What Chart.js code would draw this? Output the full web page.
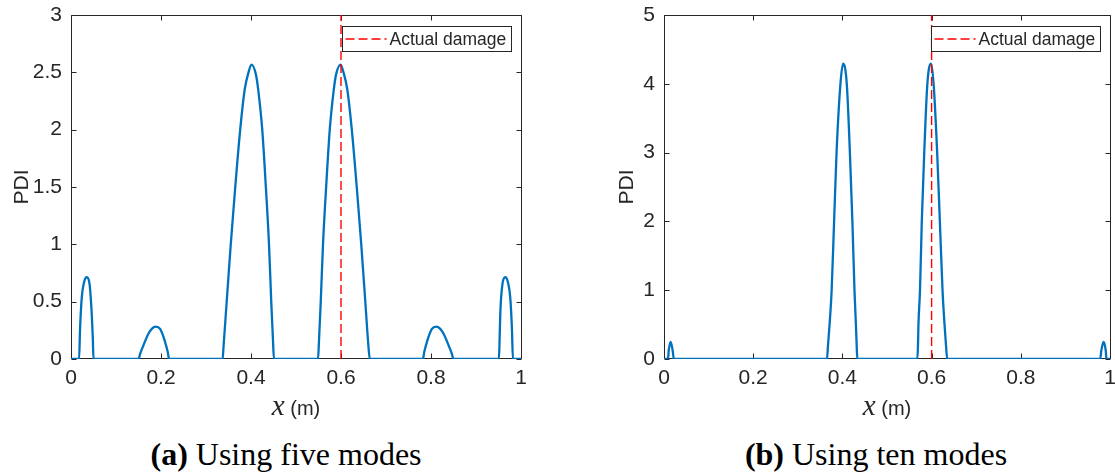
<!DOCTYPE html>
<html>
<head>
<meta charset="utf-8">
<script src="https://cdn.jsdelivr.net/npm/chart.js@4.4.1/dist/chart.umd.min.js"></script>
<style>
  html, body { margin: 0; padding: 0; background: #fff; }
  body { width: 1115px; height: 474px; position: relative; overflow: hidden; }
  canvas { position: absolute; top: 0; }
  .cap { position: absolute; top: 434px; font-family: 'Liberation Serif', 'Times New Roman', serif;
         font-size: 32px; line-height: 40px; color: #000; white-space: nowrap; transform: translateX(-50%); }
</style>
</head>
<body>
<canvas id="fiveModes" width="557" height="430" style="left:0"></canvas>
<canvas id="tenModes" width="558" height="430" style="left:557px"></canvas>
<div class="cap" style="left:286px"><b>(a)</b> Using five modes</div>
<div class="cap" style="left:876px"><b>(b)</b> Using ten modes</div>
<script>
// tick labels
const xTicks = [0, 0.2, 0.4, 0.6, 0.8, 1];
const fiveTicks = [0, 0.5, 1, 1.5, 2, 2.5, 3];
const tenTicks = [0, 1, 2, 3, 4, 5];
const damageAt = 0.6;
const xTitle = ['x', ' (m)'];

// PDI, five modes
const fiveX = [0, 0.018, 0.020, 0.024, 0.029, 0.035, 0.041, 0.046, 0.0485, 0.050,
  0.150, 0.154, 0.161, 0.172, 0.180, 0.188, 0.198, 0.209, 0.215, 0.218,
  0.337, 0.339, 0.346, 0.355, 0.365, 0.376, 0.386, 0.3945, 0.401, 0.411, 0.416, 0.425, 0.433, 0.440, 0.445, 0.449, 0.451,
  0.549, 0.551, 0.555, 0.560, 0.567, 0.575, 0.584, 0.589, 0.599, 0.6055, 0.614, 0.624, 0.635, 0.645, 0.654, 0.661, 0.664,
  0.782, 0.785, 0.791, 0.802, 0.812, 0.820, 0.828, 0.839, 0.846, 0.850,
  0.951, 0.9525, 0.954, 0.959, 0.965, 0.971, 0.976, 0.980, 0.982, 1];
const fiveY = [0, 0, 0.25, 0.54, 0.67, 0.713, 0.66, 0.40, 0.18, 0,
  0, 0.05, 0.12, 0.22, 0.265, 0.282, 0.262, 0.15, 0.06, 0,
  0, 0.11, 0.5, 1.0, 1.5, 2.0, 2.35, 2.50, 2.568, 2.48, 2.35, 2.0, 1.5, 1.0, 0.5, 0.15, 0,
  0, 0.15, 0.5, 1.0, 1.5, 2.0, 2.35, 2.48, 2.568, 2.50, 2.35, 2.0, 1.5, 1.0, 0.5, 0.11, 0,
  0, 0.06, 0.15, 0.262, 0.282, 0.265, 0.22, 0.12, 0.05, 0,
  0, 0.18, 0.40, 0.66, 0.713, 0.67, 0.54, 0.25, 0, 0];

// PDI, ten modes
const tenX = [0, 0.009, 0.0105, 0.015, 0.0195, 0.022,
  0.3656, 0.3675, 0.3712, 0.3759, 0.3814, 0.3869, 0.3956, 0.4015, 0.4098, 0.4168, 0.4224, 0.4271, 0.4303, 0.432, 0.4334,
  0.568, 0.5695, 0.5705, 0.574, 0.578, 0.5835, 0.5905, 0.5985, 0.6045, 0.6125, 0.6185, 0.6245, 0.629, 0.6325, 0.635,
  0.978, 0.9805, 0.9855, 0.9905, 0.992, 1];
const tenY = [0, 0, 0.12, 0.247, 0.12, 0,
  0, 0.18, 0.5, 1, 2, 3, 4, 4.294, 4, 3, 2, 1, 0.5, 0.2, 0,
  0, 0.2, 0.5, 1, 2, 3, 4, 4.294, 4, 3, 2, 1, 0.5, 0.18, 0,
  0, 0.12, 0.247, 0.12, 0, 0];

const axisColor = '#262626';
const sans = "'Liberation Sans', Arial, sans-serif";
Chart.defaults.font.family = sans;
Chart.defaults.color = axisColor;

// matlab style box with inward ticks, legend box and x label
const boxTicks = {
  id: 'boxTicks',
  beforeDatasetsDraw(chart) {
    const { ctx, chartArea: a, scales: { x, y } } = chart;
    const len = 5;
    const l = Math.round(a.left) + 0.5, r = Math.round(a.right) + 0.5;
    const t = Math.round(a.top) + 0.5, b = Math.round(a.bottom) - 0.5;
    ctx.save();
    ctx.strokeStyle = axisColor;
    ctx.lineWidth = 1;
    ctx.beginPath();
    ctx.rect(l, t, r - l, b - t);
    x.ticks.forEach(tk => {
      const px = Math.round(x.getPixelForValue(tk.value)) + 0.5;
      ctx.moveTo(px, b); ctx.lineTo(px, b - len);
      ctx.moveTo(px, t); ctx.lineTo(px, t + len);
    });
    y.ticks.forEach(tk => {
      const py = Math.round(y.getPixelForValue(tk.value)) + 0.5;
      ctx.moveTo(l, py); ctx.lineTo(l + len, py);
      ctx.moveTo(r, py); ctx.lineTo(r - len, py);
    });
    ctx.stroke();
    ctx.restore();
  },
  afterDatasetsDraw(chart) {
    const { ctx, chartArea: a } = chart;
    const ds = chart.data.datasets[1];
    ctx.save();
    ctx.font = '17.5px ' + sans;
    const tw = ctx.measureText(ds.label).width;
    const w = Math.round(tw + 52), h = 25;
    const l = Math.round(a.right - 10 - w) + 0.5, t = Math.round(a.top + 11) + 0.5;
    ctx.fillStyle = '#fff';
    ctx.fillRect(l, t, w, h);
    ctx.strokeStyle = axisColor;
    ctx.lineWidth = 1;
    ctx.strokeRect(l, t, w, h);
    ctx.strokeStyle = ds.borderColor;
    ctx.lineWidth = ds.borderWidth;
    ctx.setLineDash(ds.borderDash);
    ctx.beginPath();
    ctx.moveTo(l + 3, t + h / 2);
    ctx.lineTo(l + 44, t + h / 2);
    ctx.stroke();
    ctx.setLineDash([]);
    ctx.fillStyle = axisColor;
    ctx.textBaseline = 'middle';
    ctx.fillText(ds.label, l + 47, t + h / 2 + 1);

    // x label: italic serif x, sans unit
    const cx = (a.left + a.right) / 2, by = a.bottom + 56;
    const f1 = "italic 29px 'Liberation Serif', serif", f2 = '20px ' + sans;
    ctx.font = f1;
    const w1 = ctx.measureText(xTitle[0]).width;
    ctx.font = f2;
    const w2 = ctx.measureText(xTitle[1]).width;
    const x0 = cx - (w1 + w2) / 2;
    ctx.textBaseline = 'alphabetic';
    ctx.font = f1;
    ctx.fillText(xTitle[0], x0, by);
    ctx.font = f2;
    ctx.fillText(xTitle[1], x0 + w1, by);
    ctx.restore();
  }
};

function makeChart(id, xs, ys, yTicks, padLeft, padRight, titlePad) {
  const yMax = yTicks[yTicks.length - 1];
  return new Chart(document.getElementById(id), {
    type: 'line',
    data: {
      datasets: [{
        label: 'PDI',
        data: xs.map((x, i) => ({ x: x, y: ys[i] })),
        borderColor: '#0072BD',
        borderWidth: 2.3,
        pointRadius: 0,
        cubicInterpolationMode: 'monotone',
        order: 1
      }, {
        label: 'Actual damage',
        data: [{ x: damageAt, y: 0 }, { x: damageAt, y: yMax }],
        borderColor: '#ff0000',
        borderWidth: 1.4,
        borderDash: [9, 4],
        pointRadius: 0,
        order: 0
      }]
    },
    options: {
      responsive: false,
      animation: false,
      devicePixelRatio: 1,
      layout: { padding: { left: padLeft, right: padRight, top: 15, bottom: 0 } },
      plugins: { legend: { display: false }, tooltip: { enabled: false } },
      scales: {
        x: {
          type: 'linear', min: 0, max: 1,
          grid: { display: false, drawTicks: false },
          border: { display: false },
          afterBuildTicks: s => { s.ticks = xTicks.map(v => ({ value: v })); },
          afterFit: s => { s.height = 71; s.paddingLeft = 0; s.paddingRight = 0; },
          ticks: { padding: 7, color: axisColor, font: { size: 21 }, maxRotation: 0, autoSkip: false,
                   callback: v => String(v) }
        },
        y: {
          min: 0, max: yMax,
          grid: { display: false, drawTicks: false },
          border: { display: false },
          afterBuildTicks: s => { s.ticks = yTicks.map(v => ({ value: v })); },
          afterFit: s => { s.width = 71; s.paddingTop = 0; s.paddingBottom = 0; },
          ticks: { padding: 9, color: axisColor, font: { size: 21 }, autoSkip: false,
                   callback: v => String(v) },
          title: { display: true, text: 'PDI', color: axisColor, font: { size: 21 },
                   padding: { top: titlePad, bottom: 0 } }
        }
      }
    },
    plugins: [boxTicks]
  });
}

makeChart('fiveModes', fiveX, fiveY, fiveTicks, 0, 36, 10);
makeChart('tenModes', tenX, tenY, tenTicks, 36, 5, 22);
</script>
</body>
</html>
